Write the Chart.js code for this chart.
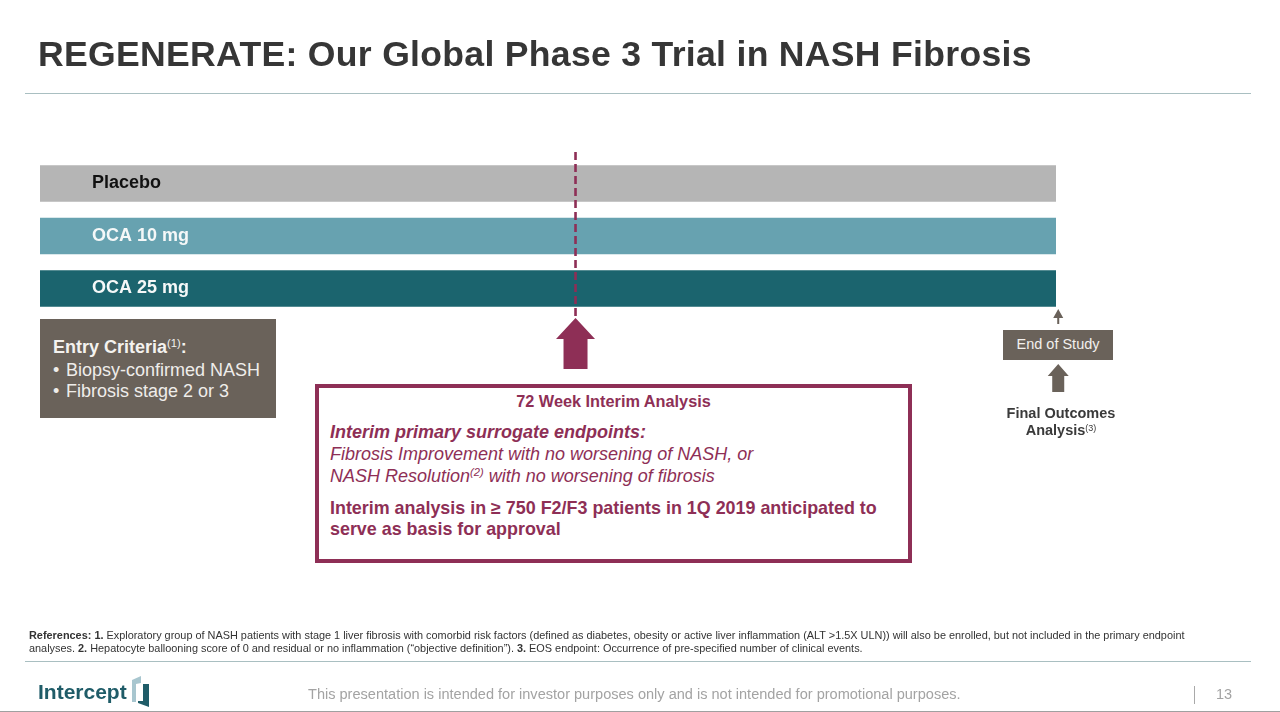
<!DOCTYPE html>
<html>
<head>
<meta charset="utf-8">
<script src="https://cdn.jsdelivr.net/npm/chart.js@4/dist/chart.umd.min.js"></script>
<style>
html,body{margin:0;padding:0;background:#fff;width:1280px;height:712px;overflow:hidden;font-family:"Liberation Sans",Arial,sans-serif}
#c{position:absolute;left:0;top:0;width:1280px;height:712px}
.t{position:absolute;white-space:nowrap}
.r{position:absolute}
.b{display:inline-block;width:13px}
sup{font-size:.62em;line-height:0;vertical-align:baseline;position:relative;top:-.5em;font-weight:400}
</style>
</head>
<body>
<canvas id="c" width="1280" height="712"></canvas>

<div class="t" style="left:38px;top:33px;font-size:35.6px;line-height:42px;font-weight:700;color:#363636;letter-spacing:.3px">REGENERATE: Our Global Phase 3 Trial in NASH Fibrosis</div>
<div class="r" style="left:25px;top:93px;width:1226px;height:1px;background:#a9bfc1"></div>

<div class="r" style="left:40px;top:319px;width:236px;height:99px;background:#6a625a"></div>
<div class="t" style="left:53px;top:337px;font-size:18px;line-height:21px;font-weight:700;color:#f4f2ef">Entry Criteria<sup>(1)</sup>:</div>
<div class="t" style="left:53px;top:360px;font-size:18px;line-height:21px;color:#efedea"><span class="b">•</span>Biopsy-confirmed NASH</div>
<div class="t" style="left:53px;top:381px;font-size:18px;line-height:21px;color:#efedea"><span class="b">•</span>Fibrosis stage 2 or 3</div>

<div class="r" style="left:315px;top:384px;width:597px;height:179px;box-sizing:border-box;border:4px solid #8e2f56;background:#fff"></div>
<div class="t" style="left:315px;width:597px;text-align:center;top:392px;font-size:16.3px;line-height:19px;font-weight:700;color:#8e2f56">72 Week Interim Analysis</div>
<div class="t" style="left:330px;top:422px;font-size:18px;line-height:21px;font-weight:700;font-style:italic;color:#8e2f56">Interim primary surrogate endpoints:</div>
<div class="t" style="left:330px;top:444px;font-size:18px;line-height:21px;font-style:italic;color:#8e2f56">Fibrosis Improvement with no worsening of NASH, or</div>
<div class="t" style="left:330px;top:466px;font-size:18px;line-height:21px;font-style:italic;color:#8e2f56">NASH Resolution<sup>(2)</sup> with no worsening of fibrosis</div>
<div class="t" style="left:330px;top:498px;font-size:17.9px;line-height:21px;font-weight:700;color:#8e2f56">Interim analysis in ≥ 750 F2/F3 patients in 1Q 2019 anticipated to</div>
<div class="t" style="left:330px;top:519px;font-size:17.9px;line-height:21px;font-weight:700;color:#8e2f56">serve as basis for approval</div>

<div class="r" style="left:1003px;top:330px;width:110px;height:30px;background:#6a625a"></div>
<div class="t" style="left:1003px;width:110px;text-align:center;top:336px;font-size:14.5px;line-height:17px;color:#f2f0ed">End of Study</div>
<div class="t" style="left:961px;width:200px;text-align:center;top:405px;font-size:14.5px;line-height:17px;font-weight:700;color:#3a3a3a">Final Outcomes</div>
<div class="t" style="left:961px;width:200px;text-align:center;top:422px;font-size:14.5px;line-height:17px;font-weight:700;color:#3a3a3a">Analysis<sup>(3)</sup></div>

<div class="t" style="left:29px;top:629px;font-size:10.9px;line-height:13px;color:#333"><b>References: 1.</b> Exploratory group of NASH patients with stage 1 liver fibrosis with comorbid risk factors (defined as diabetes, obesity or active liver inflammation (ALT &gt;1.5X ULN)) will also be enrolled, but not included in the primary endpoint</div>
<div class="t" style="left:29px;top:642px;font-size:10.9px;line-height:13px;color:#333">analyses. <b>2.</b> Hepatocyte ballooning score of 0 and residual or no inflammation (“objective definition”). <b>3.</b> EOS endpoint: Occurrence of pre-specified number of clinical events.</div>
<div class="r" style="left:25px;top:661px;width:1226px;height:1px;background:#a9bfc1"></div>

<div class="t" style="left:38px;top:677px;font-size:21px;line-height:30px;font-weight:700;color:#1f5c68">Intercept</div>
<svg class="r" style="left:128px;top:674px" width="24" height="36" viewBox="0 0 24 36">
  <polygon points="4,6 13,2 13,9 8,10 8,28 4,28" fill="#a8c6cf"/>
  <polygon points="15,10 21,10 21,33 10,29 10,27 15,27" fill="#1f5c68"/>
</svg>
<div class="t" style="left:308px;top:686px;font-size:14.55px;line-height:17px;color:#a3a3a3">This presentation is intended for investor purposes only and is not intended for promotional purposes.</div>
<div class="r" style="left:1194px;top:686px;width:1px;height:18px;background:#a9a9a9"></div>
<div class="t" style="left:1216px;top:686px;font-size:14.5px;line-height:17px;color:#a3a3a3">13</div>
<div class="r" style="left:0;top:711px;width:1280px;height:1px;background:#a0a0a0"></div>

<script>
// Trial arms
const armLabels = ["Placebo", "OCA 10 mg", "OCA 25 mg"];
const armColors = ["#b5b5b5", "#67a2b0", "#1b646e"];
const armLabelColors = ["#111111", "#f5f8f8", "#f5f8f8"];
// Length of each arm on the timeline, weeks
const armWeeks = [136.6, 136.6, 136.6];
// Interim analysis marker, weeks
const interimWeek = 72;
// Vertical extent of the interim line on the helper axis (0 = bottom of last band, 1 = top of first band)
const interimSpan = [-0.008, 1.046];
// End-of-study marker, weeks
const endWeek = 136.9;
const purple = "#8e2f56", taupe = "#6a625a";

const arrowsPlugin = {
  id: "arrows",
  afterDatasetsDraw(chart) {
    const { ctx, scales: { x } } = chart;
    const arrow = (cx, tip, neck, base, headW, shaftW, color) => {
      ctx.fillStyle = color;
      ctx.beginPath();
      ctx.moveTo(cx, tip);
      ctx.lineTo(cx + headW / 2, neck);
      ctx.lineTo(cx + shaftW / 2, neck);
      ctx.lineTo(cx + shaftW / 2, base);
      ctx.lineTo(cx - shaftW / 2, base);
      ctx.lineTo(cx - shaftW / 2, neck);
      ctx.lineTo(cx - headW / 2, neck);
      ctx.closePath();
      ctx.fill();
    };
    const xi = x.getPixelForValue(interimWeek);
    const xe = x.getPixelForValue(endWeek);
    arrow(xi, 318, 339, 369, 39, 24, purple);
    arrow(xe, 309, 318, 324, 10, 2, taupe);
    arrow(xe, 364, 376, 392, 21, 12, taupe);
  }
};

new Chart(document.getElementById("c"), {
  data: {
    labels: armLabels,
    datasets: [
      {
        type: "line",
        data: interimSpan.map(v => ({ x: interimWeek, y: v })),
        xAxisID: "x",
        yAxisID: "y2",
        borderColor: purple,
        borderWidth: 2.6,
        borderDash: [8, 4],
        pointRadius: 0,
        clip: false,
        order: 0
      },
      {
        type: "bar",
        data: armWeeks,
        xAxisID: "x",
        yAxisID: "y",
        backgroundColor: armColors,
        borderWidth: 0,
        grouped: false,
        categoryPercentage: 1,
        barPercentage: 0.695,
        order: 1
      }
    ]
  },
  options: {
    indexAxis: "y",
    responsive: false,
    animation: false,
    devicePixelRatio: 1,
    layout: { padding: { left: 40, right: 224, top: 157.25, bottom: 397.25 } },
    plugins: { legend: { display: false }, tooltip: { enabled: false } },
    scales: {
      x: { type: "linear", min: 0, max: 136.6, display: false, grid: { display: false } },
      y: {
        type: "category",
        offset: true,
        afterFit: s => { s.width = 0; },
        grid: { display: false },
        border: { display: false },
        ticks: {
          z: 1,
          mirror: true,
          padding: 52,
          autoSkip: false,
          font: { family: "'Liberation Sans'", size: 18, weight: "700" },
          color: ctx => armLabelColors[ctx.index]
        }
      },
      y2: { type: "linear", min: 0, max: 1, display: false, grid: { display: false } }
    }
  },
  plugins: [arrowsPlugin]
});
</script>
</body>
</html>
